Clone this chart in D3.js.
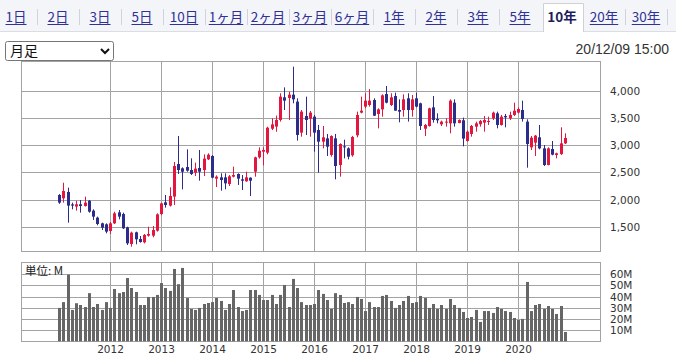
<!DOCTYPE html>
<html><head><meta charset="utf-8">
<script src="https://cdn.jsdelivr.net/npm/d3@7"></script>
<style>html,body{margin:0;padding:0;background:#fff;}svg{display:block;}</style>
</head><body>
<svg id="c" width="676" height="356"></svg>
<script>
// ---- data ----
const tabs = ["1日","2日","3日","5日","10日","1ヶ月","2ヶ月","3ヶ月","6ヶ月","1年","2年","3年","5年","10年","20年","30年"];
const activeTab = "10年";
const timestamp = "20/12/09 15:00";
const selectLabel = "月足";
const volumeUnit = "単位: M";
const startYear = 2011; // first candle: Jan 2011, monthly
const yearLabels = ["2012","2013","2014","2015","2016","2017","2018","2019","2020"];
const priceTicks = [1500, 2000, 2500, 3000, 3500, 4000];
const volTicks = [10, 20, 30, 40, 50, 60];
const opens = [2083,2022,2139,1910,1870,1912,1880,1978,1795,1667,1562,1544,
1421,1562,1764,1733,1488,1182,1397,1274,1213,1335,1335,1427,
1733,1948,1888,2053,2652,2573,2597,2542,2493,2579,2542,2738,
2800,2383,2407,2407,2285,2420,2469,2371,2334,2401,2511,2775,
2879,2861,3301,3340,3462,3878,3866,3927,3799,3229,3535,3487,
3523,3278,3063,3124,2818,3124,2634,2977,2940,2812,3180,3597,
3707,3737,3829,3572,3657,3939,3737,3902,3645,3645,3860,3645,
3860,3768,3301,3351,3694,3481,3382,3413,3400,3780,3407,3456,
3075,3205,3339,3383,3413,3425,3492,3584,3370,3535,3492,3554,
3597,3645,3431,2959,3045,3143,2940,2634,2928,2818,2836,3032];
const highs = [2100,2308,2218,1942,1978,1990,2053,1990,1820,1685,1574,1562,
1586,1776,1807,1758,1500,1409,1409,1329,1366,1500,1512,1746,
1942,2083,2224,2690,3167,2591,2922,2757,2677,2910,2830,2849,
2818,2444,2481,2481,2450,2603,2481,2450,2511,2407,2787,2959,
2959,3338,3491,3542,3952,4061,3982,4441,3860,3645,3891,3627,
3554,3370,3352,3205,3180,3205,3032,3100,2959,3167,3615,3891,
3952,4030,3860,3676,3933,4086,3952,3964,3841,3933,3952,3921,
3964,3780,3388,3688,3902,3584,3450,3492,3841,3841,3474,3505,
3266,3370,3431,3462,3535,3523,3615,3615,3554,3572,3615,3780,
3694,3817,3474,3167,3186,3370,3002,2959,3075,2861,3327,3217];
const lows = [1920,1942,1574,1820,1795,1758,1870,1758,1624,1526,1439,1378,
1366,1550,1636,1458,1164,1133,1176,1207,1194,1317,1305,1409,
1710,1850,1870,1899,2469,2187,2511,2450,2432,2346,2432,2726,
2389,2230,2162,2187,2248,2407,2267,2175,2328,2065,2420,2751,
2628,2830,3277,3246,3432,3645,3462,3768,3082,3155,3186,3155,
2879,2493,2941,2800,2787,2371,2420,2756,2738,2787,3143,3584,
3676,3707,3535,3308,3523,3768,3719,3633,3419,3523,3432,3523,
3694,3278,3167,3339,3413,3400,3351,3339,3217,3339,3400,2977,
3063,3155,3247,3339,3247,3370,3462,3308,3358,3327,3462,3535,
3584,3432,2585,2910,2800,2922,2616,2628,2812,2757,2818,3020];
const closes = [1942,2157,1888,1888,1912,1880,1942,1776,1685,1550,1482,1409,
1562,1746,1685,1470,1194,1391,1268,1219,1348,1366,1439,1727,
1929,1899,2065,2616,2542,2511,2530,2469,2567,2511,2751,2824,
2401,2420,2358,2297,2426,2450,2383,2346,2407,2346,2775,2897,
2910,3320,3381,3462,3891,3817,3927,3841,3186,3615,3462,3597,
3229,3063,3143,2971,3167,2616,3020,2959,2787,3149,3553,3633,
3817,3817,3541,3657,3915,3780,3878,3633,3615,3841,3645,3841,
3707,3351,3370,3676,3462,3456,3431,3431,3817,3400,3462,3119,
3247,3352,3400,3444,3462,3444,3597,3370,3523,3511,3554,3633,
3664,3481,3020,3137,3174,2940,2634,2940,2824,2849,3032,3131];
const volumes = [29.8,35,59.5,28,34,32.4,30.6,43,30.6,33.3,28,35,
29.8,46.7,43,44,56.5,47.6,44,32.4,32.4,39.6,39.6,41.4,
52,47.6,45,64.6,51,65.5,38.7,28.9,28,29.8,33.3,34.2,
35,38.7,36,28,33.3,45.8,30.6,27,28,45.8,45.8,41.4,
36.9,36.9,41.4,33.3,41.4,50.3,30.6,55.7,47.6,35,32.4,32.4,
33.3,45.8,42.3,36.9,28.9,43,41.4,34.2,35,33.3,39.6,37.8,
27,35,30.6,30.6,40.5,41.4,36,29.8,32.4,36,40.5,34.2,
35,40.5,38.7,29.8,33.3,28.9,32.4,28.9,37.8,32.4,29.8,26.2,
20.8,21.7,28,17.3,27,27,25.3,30.6,28.9,27,26.2,20.8,
19,20,53,27,32.4,33.3,28.9,31.5,28.9,24.4,31.5,8.3];

// ---- drawing ----
const svg = d3.select("#c");
const UP = "#e2163f", DOWN = "#2c2c8c", GRID = "#a3a3a3", VOL = "#666666";
const jp = "'Noto Sans CJK JP','Noto Sans',sans-serif";
const num = "'DejaVu Sans',sans-serif";

// tab bar
svg.append("rect").attr("x",0).attr("y",0).attr("width",676).attr("height",31).attr("fill","#f4f5f9");
svg.append("line").attr("x1",0).attr("x2",676).attr("y1",31.5).attr("y2",31.5).attr("stroke","#dcdde3");
const tabX = d3.scalePoint().domain(tabs).range([16, 646]);
const ai = tabs.indexOf(activeTab);
svg.append("path").attr("d",`M${tabX(activeTab)-18.5},32V3.5H${tabX(activeTab)+21.5}V32`)
  .attr("fill","#fff").attr("stroke","#d0d0d8");
tabs.forEach((t,i)=>{
  const act = t===activeTab;
  const tx = svg.append("text").attr("x",tabX(t)).attr("y",22).attr("text-anchor","middle")
    .attr("font-family",jp).attr("font-size",13.5).attr("font-weight",act?"bold":"normal")
    .attr("fill",act?"#1d1d5e":"#2f3196").text(t);
  if(!act){
    const w = tx.node().getComputedTextLength();
    svg.append("line").attr("x1",tabX(t)-w/2).attr("x2",tabX(t)+w/2).attr("y1",24.5).attr("y2",24.5)
      .attr("stroke","#2f3196").attr("stroke-width",1);
  }
  if(i!==ai-1 && i!==ai){
    const sx = Math.round(tabX(t)+21)+0.5;
    svg.append("line").attr("x1",sx).attr("x2",sx).attr("y1",9).attr("y2",25).attr("stroke","#d2d3da");
  }
});

// timestamp
svg.append("text").attr("x",669).attr("y",54).attr("text-anchor","end")
  .attr("font-family","'Liberation Sans',Arial,sans-serif").attr("font-size",14).attr("fill","#333").text(timestamp);

// scales
const n = opens.length;
const x = d3.scaleLinear().domain([0, n-1]).range([59, 564.75]);
const PL=21.5, PR=600.5, PT=61.5, PB=251.5;
const y = d3.scaleLinear().domain([1500, 4000]).range([226.7, 90.7]);
const VT=262.5, VB=341.5;
const yv = d3.scaleLinear().domain([0, 60]).range([341.3, 274.1]);
const yearIdx = yearLabels.map(s => (+s - startYear)*12);

// price panel grid
const gp = svg.append("g");
priceTicks.forEach(p=>{
  const yy = Math.round(y(p))+0.5;
  gp.append("line").attr("x1",PL).attr("x2",PR).attr("y1",yy).attr("y2",yy).attr("stroke",GRID);
});
yearIdx.forEach(i=>{
  const xx = Math.round(x(i))+0.5;
  gp.append("line").attr("x1",xx).attr("x2",xx).attr("y1",PT).attr("y2",PB).attr("stroke",GRID);
});
gp.append("rect").attr("x",PL).attr("y",PT).attr("width",PR-PL).attr("height",PB-PT).attr("fill","none").attr("stroke",GRID);
const yAxis = d3.axisRight(y).tickValues(priceTicks).tickSize(0).tickPadding(0).tickFormat(d3.format(","));
svg.append("g").attr("transform",`translate(610,0)`).call(yAxis).call(g=>{
  g.select(".domain").remove();
  g.selectAll("text").attr("font-family",num).attr("font-size",10.5).attr("fill","#333").attr("dy","0.35em");
});

// candles
const gc = svg.append("g");
d3.range(n).forEach(i=>{
  const xc = Math.round(x(i));
  const up = closes[i] >= opens[i];
  const col = up ? UP : DOWN;
  gc.append("line").attr("x1",xc+0.5).attr("x2",xc+0.5).attr("y1",y(highs[i])).attr("y2",y(lows[i]))
    .attr("stroke",col).attr("stroke-width",1);
  const top = y(Math.max(opens[i],closes[i])), bot = y(Math.min(opens[i],closes[i]));
  gc.append("rect").attr("x",xc-1).attr("y",top).attr("width",3).attr("height",Math.max(1,bot-top)).attr("fill",col);
});

// select box
svg.append("rect").attr("x",5.5).attr("y",41.5).attr("width",108).attr("height",19).attr("rx",2)
  .attr("fill","#fff").attr("stroke","#767676");
svg.append("text").attr("x",10).attr("y",56).attr("font-family",jp).attr("font-size",14).attr("fill","#111").text(selectLabel);
svg.append("path").attr("d","M101,49 L105,53 L109,49").attr("fill","none").attr("stroke","#111").attr("stroke-width",2);

// volume panel grid
const gv = svg.append("g");
volTicks.forEach(v=>{
  const yy = Math.round(yv(v))+0.5;
  gv.append("line").attr("x1",PL).attr("x2",PR).attr("y1",yy).attr("y2",yy).attr("stroke",GRID);
});
yearIdx.forEach(i=>{
  const xx = Math.round(x(i))+0.5;
  gv.append("line").attr("x1",xx).attr("x2",xx).attr("y1",VT).attr("y2",VB).attr("stroke",GRID);
});
gv.append("rect").attr("x",PL).attr("y",VT).attr("width",PR-PL).attr("height",VB-VT).attr("fill","none").attr("stroke",GRID);
svg.append("g").attr("transform",`translate(610,0)`)
  .call(d3.axisRight(yv).tickValues(volTicks).tickSize(0).tickPadding(0).tickFormat(d=>d+"M"))
  .call(g=>{ g.select(".domain").remove();
    g.selectAll("text").attr("font-family",num).attr("font-size",10.5).attr("fill","#333").attr("dy","0.35em"); });

// volume bars
svg.append("g").selectAll("rect").data(volumes).join("rect")
  .attr("x",(d,i)=>Math.round(x(i))-1).attr("width",3)
  .attr("y",d=>yv(d)).attr("height",d=>yv(0)-yv(d)).attr("fill",VOL);

svg.append("text").attr("x",25).attr("y",275).attr("font-family",jp).attr("font-size",11.5).attr("fill","#222").text(volumeUnit);

// year labels
yearLabels.forEach((s,k)=>{
  svg.append("text").attr("x",x(yearIdx[k])+0.5).attr("y",353).attr("text-anchor","middle")
    .attr("font-family",num).attr("font-size",10.5).attr("fill","#333").text(s);
});
</script>
</body></html>
